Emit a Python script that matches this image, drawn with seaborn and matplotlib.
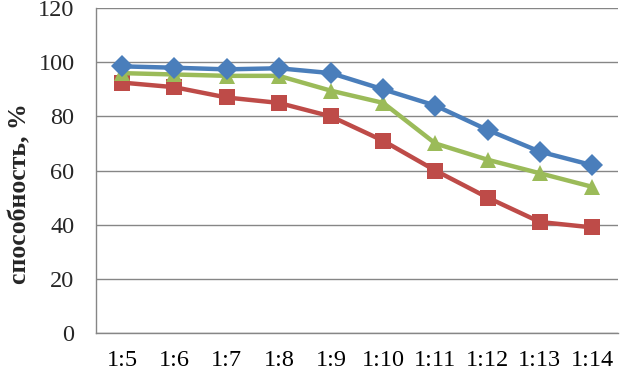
import numpy as np
import pandas as pd
import matplotlib
matplotlib.use("Agg")
import matplotlib.pyplot as plt
import seaborn as sns

# categories (ratio) and the three series
ratios = ["1:5", "1:6", "1:7", "1:8", "1:9", "1:10", "1:11", "1:12", "1:13", "1:14"]
series_blue = [98.5, 98, 97.4, 97.8, 96, 90, 84, 75, 67, 62]
series_green = [96, 95.5, 95, 95, 89.5, 85, 70, 64, 59, 54]
series_red = [92.5, 90.8, 87, 85, 80, 71, 60, 50, 41, 39]

# long table for seaborn, red first so blue ends up on top
rows = []
for name, vals in [("red", series_red), ("green", series_green), ("blue", series_blue)]:
    for i, v in enumerate(vals):
        rows.append({"pos": i, "ratio": ratios[i], "value": v, "series": name})
df = pd.DataFrame(rows)

sns.set_theme(style="white")
plt.rcParams["font.family"] = ["Liberation Serif", "DejaVu Serif"]

palette = {"blue": "#4A7EBB", "green": "#9BBB59", "red": "#BE4B48"}
markers = {"blue": "D", "green": "^", "red": "s"}

fig = plt.figure(figsize=(6.2, 3.72), dpi=100)
ax = fig.add_axes([0.155, 0.105, 0.842, 0.873])

sns.lineplot(data=df, x="pos", y="value", hue="series", style="series",
             palette=palette, markers=markers, dashes=False,
             hue_order=["red", "green", "blue"], style_order=["red", "green", "blue"],
             linewidth=3.2, markersize=11, markeredgewidth=0, legend=False, ax=ax)

ax.set_xlim(-0.5, len(ratios) - 0.5)
ax.set_ylim(0, 120)
ax.set_yticks(np.arange(0, 121, 20))
ax.yaxis.grid(True, color="#868686", linewidth=1)
ax.set_axisbelow(True)

ax.set_xticks(range(len(ratios)))
ax.set_xticklabels(ratios)
ax.set_xticks(np.arange(-0.5, len(ratios), 1), minor=True)
ax.tick_params(axis="x", which="major", length=0, pad=12, labelsize=17.5, colors="black")
ax.tick_params(axis="x", which="minor", length=5.5, width=1, color="#868686", direction="out")
ax.tick_params(axis="y", length=5.5, width=1, color="#868686", direction="out", labelsize=17.5, pad=10)

for s in ["top", "right"]:
    ax.spines[s].set_visible(False)
for s in ["left", "bottom"]:
    ax.spines[s].set_color("#868686")
    ax.spines[s].set_linewidth(1)

ax.set_xlabel("")
ax.set_ylabel("способность, %", fontsize=18.5, fontweight="bold")
ax.yaxis.set_label_coords(-0.125, 0.43)

fig.savefig("out.png", dpi=100)
